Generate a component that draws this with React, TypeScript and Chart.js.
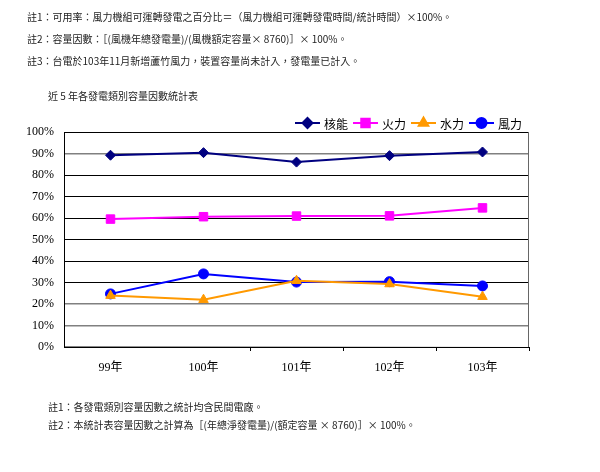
import React, { useEffect, useRef } from "react";
import { Chart, registerables } from "chart.js";
import { drawPoint } from "chart.js/helpers";

Chart.register(...registerables);

const categories = ["99年", "100年", "101年", "102年", "103年"];
const nuclear = [89.2, 90.4, 86.0, 89.0, 90.7];
const thermal = [59.5, 60.6, 60.9, 61.0, 64.7];
const hydro = [23.9, 22.0, 30.8, 29.3, 23.4];
const wind = [24.7, 34.0, 30.2, 30.4, 28.4];
const seriesNames = ["核能", "火力", "水力", "風力"];

const topNotes = [
  "註1：可用率：風力機組可運轉發電之百分比＝（風力機組可運轉發電時間/統計時間）×100%。",
  "註2：容量因數：［(風機年總發電量)/(風機額定容量× 8760)］× 100%。",
  "註3：台電於103年11月新增蘆竹風力，裝置容量尚未計入，發電量已計入。",
];
const chartTitle = "近 5 年各發電類別容量因數統計表";
const bottomNotes = [
  "註1：各發電類別容量因數之統計均含民間電廠。",
  "註2：本統計表容量因數之計算為［(年總淨發電量)/(額定容量 × 8760)］× 100%。",
];

const CJK = '"Noto Sans CJK TC", "Noto Sans", sans-serif';
const SERIF = '"Liberation Serif", "Noto Sans CJK TC", serif';

const borderPlugin = {
  id: "plotBorder",
  beforeDatasetsDraw(chart: any) {
    const { ctx, chartArea: a } = chart;
    ctx.save();
    ctx.lineWidth = 1;
    ctx.strokeStyle = "#000";
    ctx.beginPath();
    ctx.moveTo(a.left + 0.5, a.top);
    ctx.lineTo(a.left + 0.5, a.bottom);
    ctx.lineTo(a.right, a.bottom + 0.5);
    ctx.stroke();
    ctx.strokeStyle = "#666";
    ctx.beginPath();
    ctx.moveTo(a.right - 0.5, a.top);
    ctx.lineTo(a.right - 0.5, a.bottom);
    ctx.stroke();
    ctx.restore();
  },
};

const legendPlugin = {
  id: "lineLegend",
  afterDraw(chart: any) {
    const { ctx, chartArea: a } = chart;
    const lineLen = 25;
    const gapAfterLine = 4;
    const gapAfterText = 5;
    ctx.save();
    ctx.font = `12px ${CJK}`;
    const items = chart.data.datasets.map((ds: any) => ({
      ds,
      w: ctx.measureText(ds.label).width,
    }));
    const total = items.reduce(
      (s: number, it: any) => s + lineLen + gapAfterLine + it.w + gapAfterText,
      0
    ) - gapAfterText;
    let x = a.right - 7 - total;
    const y = a.top - 9;
    items.forEach((it: any) => {
      const ds = it.ds;
      ctx.strokeStyle = ds.borderColor;
      ctx.lineWidth = 2;
      ctx.beginPath();
      ctx.moveTo(x, y);
      ctx.lineTo(x + lineLen, y);
      ctx.stroke();
      ctx.fillStyle = ds.pointBackgroundColor;
      drawPoint(
        ctx,
        {
          pointStyle: ds.pointStyle,
          radius: ds.pointRadius,
          rotation: 0,
          borderWidth: 1,
        } as any,
        x + lineLen / 2,
        y
      );
      x += lineLen + gapAfterLine;
      ctx.fillStyle = "#000";
      ctx.textBaseline = "middle";
      ctx.textAlign = "left";
      ctx.fillText(ds.label, x, y + 1);
      x += it.w + gapAfterText;
    });
    ctx.restore();
  },
};

function ChartBox() {
  const ref = useRef<HTMLCanvasElement | null>(null);
  useEffect(() => {
    if (!ref.current) return;
    const mk = (label: string, data: number[], color: string, style: string, r: number) => ({
      label,
      data,
      borderColor: color,
      backgroundColor: color,
      pointBackgroundColor: color,
      pointBorderColor: color,
      pointStyle: style,
      pointRadius: r,
      pointBorderWidth: 1,
      borderWidth: 2,
      tension: 0,
    });
    const chart = new Chart(ref.current, {
      type: "line",
      data: {
        labels: categories,
        datasets: [
          mk(seriesNames[0], nuclear, "#000080", "rectRot", 5),
          mk(seriesNames[1], thermal, "#FF00FF", "rect", 6),
          mk(seriesNames[2], hydro, "#FF9900", "triangle", 5.5),
          mk(seriesNames[3], wind, "#0000FF", "circle", 5),
        ] as any,
      },
      options: {
        animation: false,
        responsive: false,
        maintainAspectRatio: false,
        layout: { padding: { left: 0, right: 71, top: 132, bottom: 85 } },
        plugins: {
          legend: { display: false },
          tooltip: { enabled: false },
          title: { display: false },
        },
        scales: {
          x: {
            type: "category",
            offset: true,
            border: { display: false },
            grid: {
              offset: true,
              drawOnChartArea: false,
              drawTicks: true,
              tickLength: 4,
              tickColor: (c: any) => (c.index <= 1 ? "rgba(0,0,0,0)" : "#000"),
            },
            ticks: {
              color: "#000",
              font: { family: SERIF, size: 12 },
              padding: 10,
              maxRotation: 0,
            },
            afterFit: (s: any) => {
              s.height = 40;
            },
          },
          y: {
            min: 0,
            max: 100,
            border: { display: false },
            grid: {
              drawTicks: false,
              color: (c: any) => {
                const v = c.tick ? c.tick.value : -1;
                return v === 90 || v === 20 || v === 10 ? "#808080" : "#000";
              },
              lineWidth: (c: any) => {
                const v = c.tick ? c.tick.value : -1;
                return v === 90 || v === 20 || v === 10 ? 1.5 : 1;
              },
            },
            ticks: {
              stepSize: 10,
              color: "#000",
              padding: 10,
              font: { family: SERIF, size: 12 },
              callback: (v: any) => `${v}%`,
            },
            afterFit: (s: any) => {
              s.width = 64;
            },
          },
        },
      },
      plugins: [borderPlugin, legendPlugin],
    } as any);
    return () => chart.destroy();
  }, []);
  return (
    <canvas
      ref={ref}
      width={600}
      height={472}
      style={{ position: "absolute", left: 0, top: 0, width: 600, height: 472 }}
    />
  );
}

export default function App() {
  useEffect(() => {
    document.body.style.margin = "0";
  }, []);
  const noteStyle = (top: number, left: number): React.CSSProperties => ({
    position: "absolute",
    left,
    top,
    fontFamily: CJK,
    fontSize: 10,
    lineHeight: "14px",
    color: "#222",
    whiteSpace: "nowrap",
  });
  return (
    <div style={{ position: "relative", width: 600, height: 472, background: "#fff", overflow: "hidden" }}>
      <ChartBox />
      {topNotes.map((t, i) => (
        <div key={"t" + i} style={noteStyle([10, 32, 54][i], 27)}>
          {t}
        </div>
      ))}
      <div style={noteStyle(89, 48)}>{chartTitle}</div>
      {bottomNotes.map((t, i) => (
        <div key={"b" + i} style={noteStyle([400, 418][i], 48)}>
          {t}
        </div>
      ))}
    </div>
  );
}
